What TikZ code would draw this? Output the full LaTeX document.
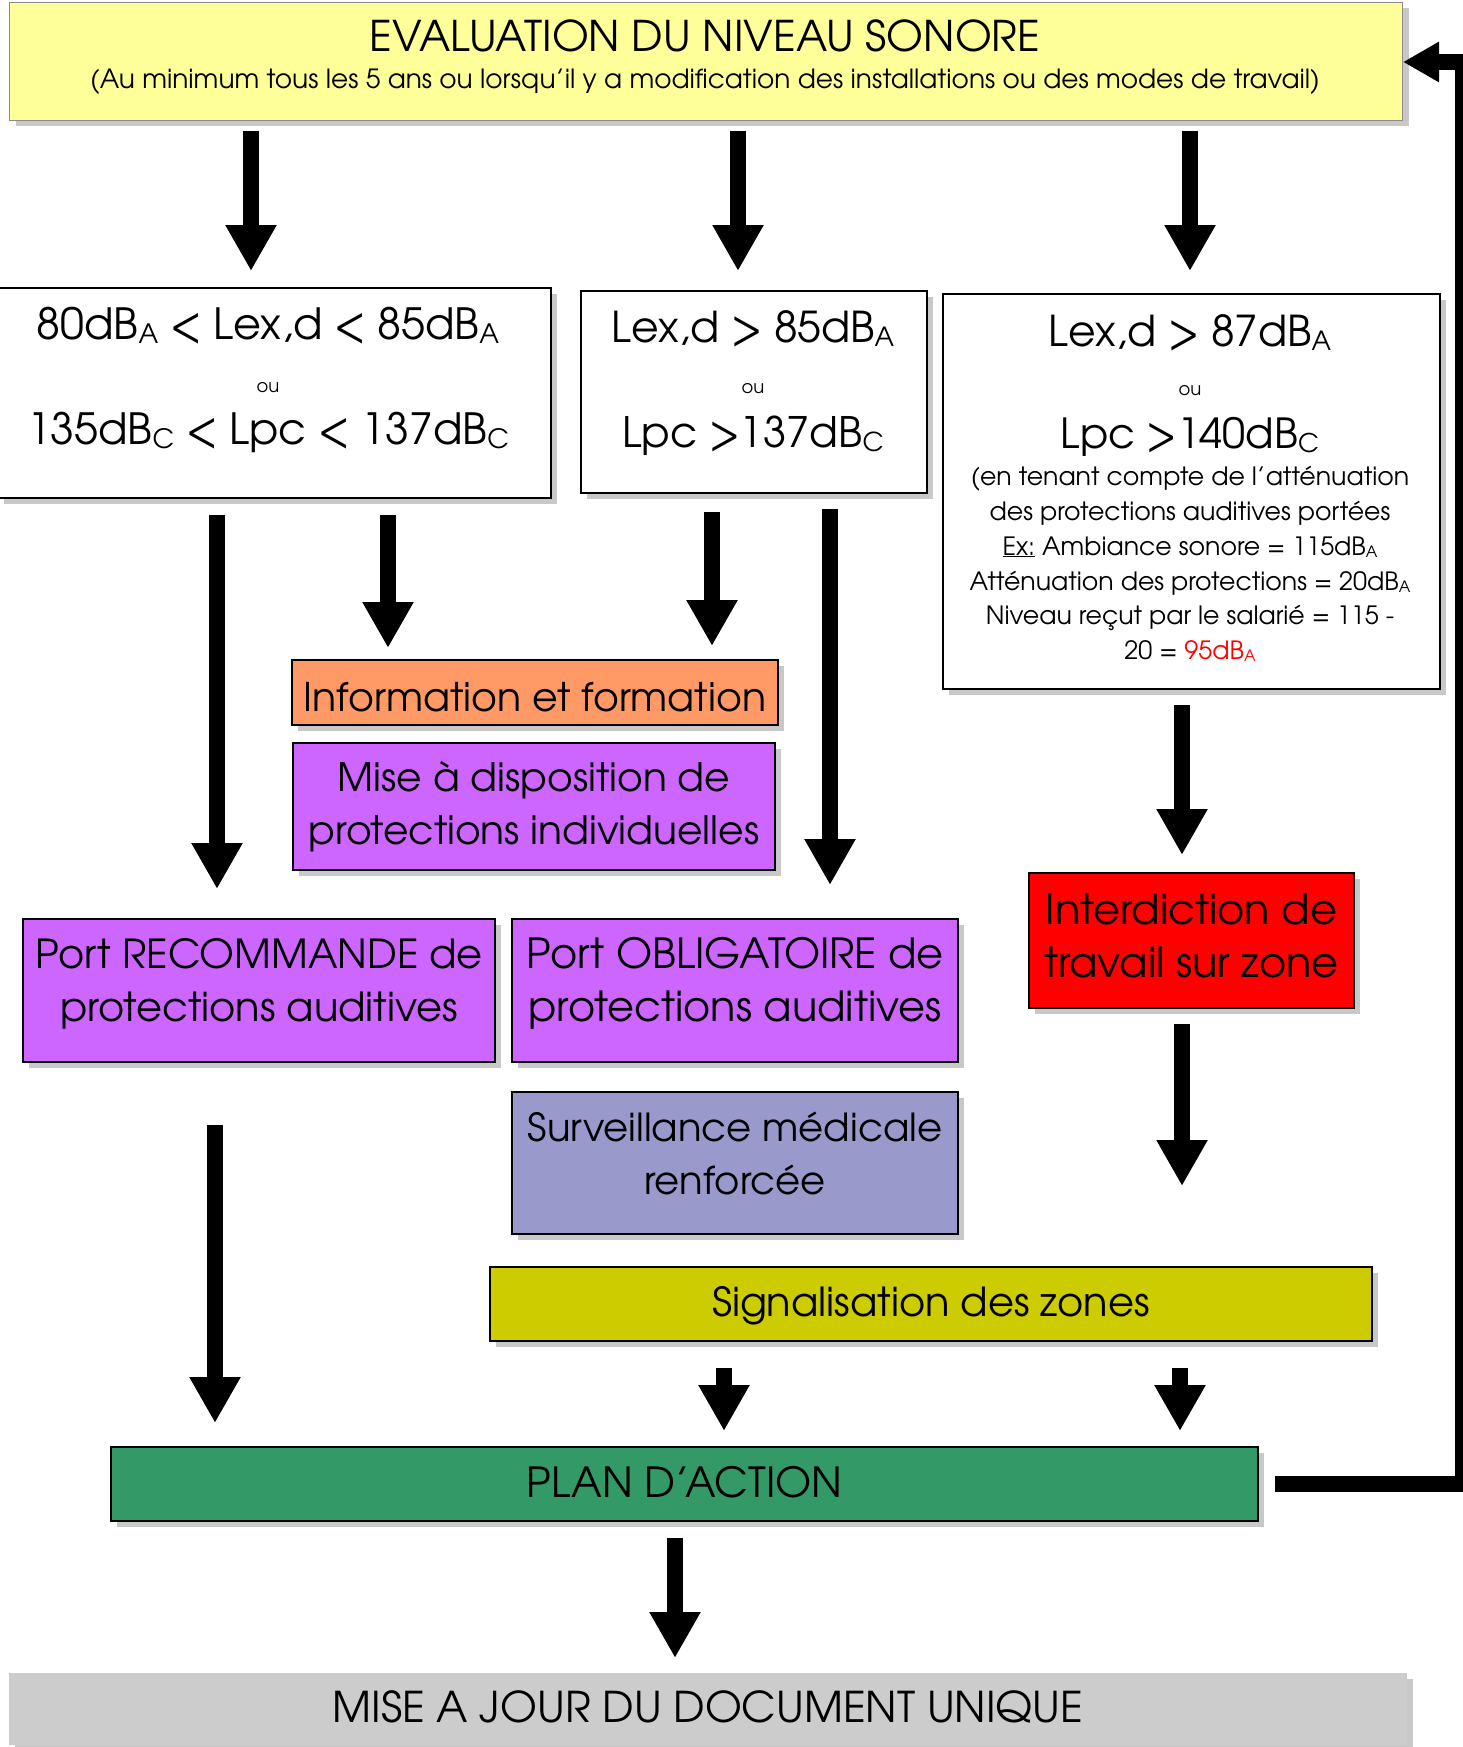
\documentclass[tikz,border=0pt]{standalone}
\usepackage{graphicx}
\usepackage{fontspec}
\setmainfont{texgyreadventor}[Extension=.otf,UprightFont=*-regular,BoldFont=*-bold,ItalicFont=*-italic,BoldItalicFont=*-bolditalic]
\usetikzlibrary{arrows.meta,shadows}
\newcommand\sbx[1]{\raisebox{-0.1em}{\scalebox{0.62}{#1}}}
\newcommand\dbA{dB\sbx{A}}
\newcommand\dbC{dB\sbx{C}}
\definecolor{cyel}{HTML}{FFFF99}
\definecolor{corange}{HTML}{FF9966}
\definecolor{cpurple}{HTML}{CC66FF}
\definecolor{cred}{HTML}{FF0000}
\definecolor{cblue}{HTML}{9999CC}
\definecolor{colive}{HTML}{CCCC00}
\definecolor{cgreen}{HTML}{339966}
\definecolor{cgrey}{HTML}{CCCCCC}
\definecolor{cshadow}{HTML}{C8C8C8}
\tikzset{
  box/.style={draw=black, line width=2pt, anchor=north west, inner sep=0pt, align=center,
    drop shadow={shadow xshift=6pt, shadow yshift=-6pt, fill=cshadow, opacity=1}},
  lbl/.style={anchor=base, inner sep=0pt},
  big/.style={font=\fontsize{40}{53}\selectfont},
  blk/.style={line width=16pt, -{Triangle[width=48pt,length=46pt]}},
  fb/.style={line width=16pt, line join=miter, -{Triangle[width=38pt,length=36pt]}},
}
\begin{document}
\begin{tikzpicture}[x=1pt,y=-1pt]
\useasboundingbox (0,0) rectangle (1462,1747);
% boxes
\node[box, draw=black!45, line width=1pt, fill=cyel, minimum width=1393pt, minimum height=118pt] (top) at (9,2) {};
\node[lbl, font=\fontsize{42.3}{44}\selectfont] (toptitle) at (705,52) {EVALUATION DU NIVEAU SONORE};
\node[lbl, font=\fontsize{26.4}{28}\selectfont] (topsub) at (705,89) {(Au minimum tous les 5 ans ou lorsqu’il y a modification des installations ou des modes de travail)};

\node[box, fill=white, minimum width=553pt, minimum height=210pt] (b1) at (-3,287) {};
\node[lbl, font=\fontsize{43}{44}\selectfont] (b1a) at (268,339) {80\dbA{} < Lex,d < 85\dbA};
\node[lbl, font=\fontsize{18}{20}\selectfont] (b1o) at (268,392) {ou};
\node[lbl, font=\fontsize{43}{44}\selectfont] (b1b) at (268,444) {135\dbC{} < Lpc < 137\dbC};

\node[box, fill=white, minimum width=346pt, minimum height=202pt] (b2) at (580,290) {};
\node[lbl, font=\fontsize{42.5}{44}\selectfont] (b2a) at (753,342) {Lex,d > 85\dbA};
\node[lbl, font=\fontsize{18}{20}\selectfont] (b2o) at (753,393) {ou};
\node[lbl, font=\fontsize{42}{44}\selectfont] (b2b) at (753,447) {Lpc >137\dbC};

\node[box, fill=white, minimum width=497pt, minimum height=395pt] (b3) at (942,293) {};
\node[lbl, font=\fontsize{42.5}{44}\selectfont] (b3a) at (1190,346) {Lex,d > 87\dbA};
\node[lbl, font=\fontsize{18}{20}\selectfont] (b3o) at (1190,395) {ou};
\node[lbl, font=\fontsize{41.5}{44}\selectfont] (b3b) at (1190,448) {Lpc >140\dbC};
\node[lbl, font=\fontsize{25.2}{30}\selectfont] (b3c) at (1190,485) {(en tenant compte de l’atténuation};
\node[lbl, font=\fontsize{25.2}{30}\selectfont] (b3d) at (1190,520) {des protections auditives portées};
\node[lbl, font=\fontsize{25.2}{30}\selectfont] (b3e) at (1190,555) {\underline{Ex:} Ambiance sonore = 115\dbA};
\node[lbl, font=\fontsize{25.2}{30}\selectfont] (b3f) at (1190,590) {Atténuation des protections = 20\dbA};
\node[lbl, font=\fontsize{25.2}{30}\selectfont] (b3g) at (1190,624) {Niveau reçut par le salarié = 115 -};
\node[lbl, font=\fontsize{25.2}{30}\selectfont] (b3h) at (1190,659) {20 = \textcolor{cred}{95\dbA}};

\node[box, fill=corange, font=\fontsize{39.5}{53}\selectfont, minimum width=486pt, minimum height=65pt, text height=38pt] (info) at (291,659) {Information et formation};
\node[box, fill=cpurple, font=\fontsize{39.2}{53}\selectfont, minimum width=482pt, minimum height=127pt] (mise) at (292,742) {Mise à disposition de\\protections individuelles};
\node[box, fill=cpurple, font=\fontsize{40}{53}\selectfont, minimum width=472pt, minimum height=143pt, text depth=22pt] (reco) at (22,918) {Port RECOMMANDE de\\protections auditives};
\node[box, fill=cpurple, font=\fontsize{41.5}{53}\selectfont, minimum width=446pt, minimum height=143pt, text depth=22pt] (oblig) at (511,918) {Port OBLIGATOIRE de\\protections auditives};
\node[box, fill=cblue, font=\fontsize{38.6}{53}\selectfont, minimum width=446pt, minimum height=142pt, text depth=19pt] (surv) at (511,1091) {Surveillance médicale\\renforcée};
\node[box, fill=cred, font=\fontsize{41.5}{53}\selectfont, minimum width=325pt, minimum height=135pt, text depth=10pt] (interd) at (1028,872) {Interdiction de\\travail sur zone};
\node[box, fill=colive, big, minimum width=882pt, minimum height=74pt, text height=34pt] (signal) at (489,1266) {Signalisation des zones};
\node[box, fill=cgreen, font=\fontsize{41.5}{53}\selectfont, minimum width=1147pt, minimum height=74pt, text depth=4pt] (plan) at (110,1446) {PLAN D’ACTION};
\node[box, draw=none, fill=cgrey, font=\fontsize{42.4}{53}\selectfont, minimum width=1398pt, minimum height=72pt, text depth=4pt] (maj) at (8,1672) {MISE A JOUR DU DOCUMENT UNIQUE};

% column coordinates
\coordinate (xA) at (251,0);
\coordinate (xB) at (738,0);
\coordinate (xC) at (1190,0);
\coordinate (xD) at (217,0);
\coordinate (xE) at (388,0);
\coordinate (xF) at (712,0);
\coordinate (xG) at (830,0);
\coordinate (xH) at (1182,0);
\coordinate (xI) at (215,0);
\coordinate (xJ) at (724,0);
\coordinate (xK) at (1180,0);
\coordinate (xL) at (675,0);
\coordinate (iend) at (1182,1186);
\coordinate (fbc) at (1463,62);

% arrows
\draw[blk, shorten <=10pt, shorten >=16pt] (top.south -| xA) -- (b1.north -| xA);
\draw[blk, shorten <=10pt, shorten >=19pt] (top.south -| xB) -- (b2.north -| xB);
\draw[blk, shorten <=10pt, shorten >=22pt] (top.south -| xC) -- (b3.north -| xC);
\draw[blk, shorten <=16pt, shorten >=29pt] (b1.south -| xD) -- (reco.north -| xD);
\draw[blk, shorten <=16pt, shorten >=11pt] (b1.south -| xE) -- (info.north -| xE);
\draw[blk, shorten <=18pt, shorten >=13pt] (b2.south -| xF) -- (info.north -| xF);
\draw[blk, shorten <=15pt, shorten >=33pt] (b2.south -| xG) -- (oblig.north -| xG);
\draw[blk, shorten <=15pt, shorten >=17pt] (b3.south -| xH) -- (interd.north -| xH);
\draw[blk, shorten <=15pt] (interd.south -| xH) -- (iend);
\draw[blk, shorten <=62pt, shorten >=23pt] (reco.south -| xI) -- (plan.north -| xI);
\draw[blk, shorten <=26pt, shorten >=15pt] (signal.south -| xJ) -- (plan.north -| xJ);
\draw[blk, shorten <=26pt, shorten >=15pt] (signal.south -| xK) -- (plan.north -| xK);
\draw[blk, shorten <=16pt, shorten >=14pt] (plan.south -| xL) -- (maj.north -| xL);
\draw[fb, shorten <=16pt] (plan.east) -| (fbc) -- (top.east |- fbc);
\end{tikzpicture}
\end{document}
